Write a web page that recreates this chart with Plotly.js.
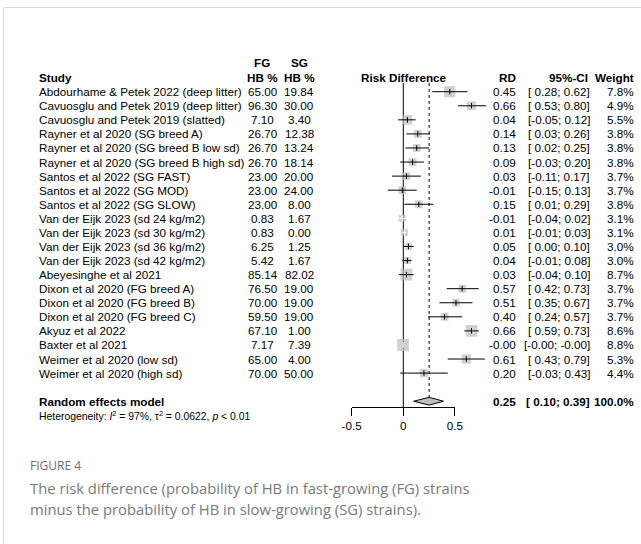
<!DOCTYPE html>
<html>
<head>
<meta charset="utf-8">
<script src="https://cdn.plot.ly/plotly-3.0.1.min.js"></script>
<style>html,body{margin:0;padding:0;background:#fff;}#chart{width:641px;height:544px;}</style>
</head>
<body>
<div id="chart"></div>
<script>
// ---------------- DATA ----------------
const studies = [
  "Abdourhame & Petek 2022 (deep litter)",
  "Cavuosglu and Petek 2019 (deep litter)",
  "Cavuosglu and Petek 2019 (slatted)",
  "Rayner et al 2020 (SG breed A)",
  "Rayner et al 2020 (SG breed B low sd)",
  "Rayner et al 2020 (SG breed B high sd)",
  "Santos et al 2022 (SG FAST)",
  "Santos et al 2022 (SG MOD)",
  "Santos et al 2022 (SG SLOW)",
  "Van der Eijk 2023 (sd 24 kg/m2)",
  "Van der Eijk 2023 (sd 30 kg/m2)",
  "Van der Eijk 2023 (sd 36 kg/m2)",
  "Van der Eijk 2023 (sd 42 kg/m2)",
  "Abeyesinghe et al 2021",
  "Dixon et al 2020 (FG breed A)",
  "Dixon et al 2020 (FG breed B)",
  "Dixon et al 2020 (FG breed C)",
  "Akyuz et al 2022",
  "Baxter et al 2021",
  "Weimer et al 2020 (low sd)",
  "Weimer et al 2020 (high sd)"
];
const fgHB = [65.00, 96.30, 7.10, 26.70, 26.70, 26.70, 23.00, 23.00, 23.00, 0.83, 0.83, 6.25, 5.42, 85.14, 76.50, 70.00, 59.50, 67.10, 7.17, 65.00, 70.00];
const sgHB = [19.84, 30.00, 3.40, 12.38, 13.24, 18.14, 20.00, 24.00, 8.00, 1.67, 0.00, 1.25, 1.67, 82.02, 19.00, 19.00, 19.00, 1.00, 7.39, 4.00, 50.00];
const rd   = [0.45, 0.66, 0.04, 0.14, 0.13, 0.09, 0.03, -0.01, 0.15, -0.01, 0.01, 0.05, 0.04, 0.03, 0.57, 0.51, 0.40, 0.66, -0.002, 0.61, 0.20];
const ciLo = [0.28, 0.53, -0.05, 0.03, 0.02, -0.03, -0.11, -0.15, 0.01, -0.04, -0.01, 0.00, -0.01, -0.04, 0.42, 0.35, 0.24, 0.59, -0.004, 0.43, -0.03];
const ciHi = [0.62, 0.80, 0.12, 0.26, 0.25, 0.20, 0.17, 0.13, 0.29, 0.02, 0.03, 0.10, 0.08, 0.10, 0.73, 0.67, 0.57, 0.73, -0.001, 0.79, 0.43];
const weight = [7.8, 4.9, 5.5, 3.8, 3.8, 3.8, 3.7, 3.7, 3.8, 3.1, 3.1, 3.0, 3.0, 8.7, 3.7, 3.7, 3.7, 8.6, 8.8, 5.3, 4.4];
const pooledLabel = "Random effects model";
const pooledRD = 0.25, pooledLo = 0.10, pooledHi = 0.39, pooledWeight = 100.0;
const hetI2 = "97%", hetTau2 = "0.0622", hetP = "0.01";
const axisTicks = [-0.5, 0, 0.5];
const axisTickLabels = ["-0.5", "0", "0.5"];
const nullEffect = 0;
const captionTitle = "FIGURE 4";
const captionLines = [
  "The risk difference (probability of HB in fast-growing (FG) strains",
  "minus the probability of HB in slow-growing (SG) strains)."
];

// ---------------- LAYOUT GEOMETRY ----------------
const W = 641, H = 544;
const X0 = 403.3, PXU = 103.3;          // pixel of RD=0, pixels per unit
const ROW1 = 91.7, PITCH = 14.07;       // pixel of first study row, row pitch
const xr = [-X0 / PXU, (W - X0) / PXU];
const yr = [1 + (H - ROW1) / PITCH, 1 - ROW1 / PITCH];
const F = "'Liberation Sans', Arial, sans-serif";
const FS = 11.7;
const SQK = 4.0;                         // square side = SQK*sqrt(weight)
const SQCOL = "#BEBEBE";
const n = studies.length;
const pooledRow = n + 2, hetRow = n + 3;
const axisPx = 407.3;

function fmt2(v) { return v.toFixed(2); }
function padPos(s) { return s.charAt(0) === '-' ? s : ' ' + s; }
function ciText(lo, hi) { return '[' + padPos(fmt2(lo)) + '; ' + fmt2(hi) + ']'; }

// ---------------- TRACES ----------------
const rows = studies.map((_, i) => i + 1);
const side = weight.map(w => SQK * Math.sqrt(w));
const inside = rd.map((_, i) => (ciHi[i] - ciLo[i]) * PXU <= side[i]);

const darkX = [], darkY = [], whiteX = [], whiteY = [];
const tickDX = [], tickDY = [], tickWX = [], tickWY = [];
for (let i = 0; i < n; i++) {
  if (inside[i]) {
    whiteX.push(ciLo[i], ciHi[i], null); whiteY.push(rows[i], rows[i], null);
    tickWX.push(rd[i]); tickWY.push(rows[i]);
  } else {
    darkX.push(ciLo[i], ciHi[i], null); darkY.push(rows[i], rows[i], null);
    tickDX.push(rd[i]); tickDY.push(rows[i]);
  }
}
const dh = 3.9 / PITCH;
const traces = [
  { type: 'scatter', mode: 'markers', x: rd, y: rows, hoverinfo: 'skip',
    marker: { symbol: 'square', size: side, color: SQCOL, line: { width: 0 } } },
  { type: 'scatter', mode: 'lines', x: darkX, y: darkY, hoverinfo: 'skip',
    line: { color: '#000', width: 1 } },
  { type: 'scatter', mode: 'lines', x: whiteX, y: whiteY, hoverinfo: 'skip',
    line: { color: '#fff', width: 1 } },
  { type: 'scatter', mode: 'markers', x: tickDX, y: tickDY, hoverinfo: 'skip',
    marker: { symbol: 'line-ns', size: 4, line: { color: '#000', width: 1 } } },
  { type: 'scatter', mode: 'markers', x: tickWX, y: tickWY, hoverinfo: 'skip',
    marker: { symbol: 'line-ns', size: 4, line: { color: '#fff', width: 1 } } },
  { type: 'scatter', mode: 'lines', fill: 'toself', fillcolor: SQCOL, hoverinfo: 'skip',
    x: [pooledLo, pooledRD, pooledHi, pooledRD, pooledLo],
    y: [pooledRow, pooledRow - dh, pooledRow, pooledRow + dh, pooledRow],
    line: { color: '#000', width: 1 } },
  { type: 'scatter', mode: 'markers', x: [axisTicks[0], axisTicks[axisTicks.length - 1]], y: [0.5, 0.5],
    xaxis: 'x2', yaxis: 'y2', marker: { opacity: 0 }, hoverinfo: 'skip' }
];

// ---------------- ANNOTATIONS ----------------
const ann = [];
function A(text, xpx, row, anchor, size, extra) {
  const o = { xref: 'paper', x: xpx / W, yref: 'y', y: row, xanchor: anchor, yanchor: 'middle',
    showarrow: false, text: text, font: { family: F, size: size || FS, color: '#000' } };
  return Object.assign(o, extra || {});
}
const cStudy = 36.7, cFG = 262.5, cSG = 299.3, cRD = 518.3, cCI = 591.7, cW = 636;
ann.push(A('<b>FG</b>', cFG - 1, -1.08, 'center'));
ann.push(A('<b>SG</b>', cSG, -1.08, 'center'));
ann.push(A('<b>Study</b>', cStudy, 0, 'left'));
ann.push(A('<b>HB %</b>', cFG, 0, 'center'));
ann.push(A('<b>HB %</b>', cSG, 0, 'center'));
ann.push(A('<b>Risk Difference</b>', 404, 0, 'center'));
ann.push(A('<b>RD</b>', cRD, 0, 'right'));
ann.push(A('<b>95%-CI</b>', cCI - 2, 0, 'right'));
ann.push(A('<b>Weight</b>', cW, 0, 'right'));
for (let i = 0; i < n; i++) {
  const r = rows[i];
  ann.push(A(studies[i], cStudy, r, 'left'));
  ann.push(A(fgHB[i].toFixed(2), cFG, r, 'center'));
  ann.push(A(sgHB[i].toFixed(2), cSG, r, 'center'));
  ann.push(A(fmt2(rd[i]), cRD, r, 'right'));
  ann.push(A(ciText(ciLo[i], ciHi[i]), cCI, r, 'right'));
  ann.push(A(weight[i].toFixed(1) + '%', cW - 0.5, r, 'right'));
}
ann.push(A('<b>' + pooledLabel + '</b>', cStudy, pooledRow, 'left'));
ann.push(A('<b>' + fmt2(pooledRD) + '</b>', cRD, pooledRow, 'right'));
ann.push(A('<b>' + ciText(pooledLo, pooledHi) + '</b>', cCI, pooledRow, 'right'));
ann.push(A('<b>' + pooledWeight.toFixed(1) + '%</b>', cW, pooledRow, 'right'));
ann.push(A('Heterogeneity: <i>I</i><sup>2</sup> = ' + hetI2 + ', τ<sup>2</sup> = ' + hetTau2 + ', <i>p</i> &lt; ' + hetP,
  cStudy, hetRow, 'left', 10.4));

// caption
const capF = "'Open Sans', 'Noto Sans', sans-serif";
ann.push({ xref: 'paper', yref: 'paper', x: 28.3 / W, y: 1 - 465 / H, xanchor: 'left', yanchor: 'middle',
  showarrow: false, text: captionTitle, font: { family: capF, size: 12, color: '#6e6e6e' } });
captionLines.forEach((t, k) => {
  ann.push({ xref: 'paper', yref: 'paper', x: 28.3 / W, y: 1 - (488.3 + k * 20.5) / H, xanchor: 'left', yanchor: 'middle',
    showarrow: false, text: t, font: { family: capF, size: 14.8, color: '#7a7a7a' } });
});

// ---------------- SHAPES ----------------
const topRow = 1 + (83 - ROW1) / PITCH;
const axisRow = 1 + (axisPx - ROW1) / PITCH;
const shapes = [
  { type: 'line', layer: 'below', xref: 'x', yref: 'y', x0: nullEffect, x1: nullEffect, y0: topRow, y1: axisRow,
    line: { color: '#000', width: 1 } },
  { type: 'line', layer: 'below', xref: 'x', yref: 'y', x0: pooledRD, x1: pooledRD, y0: topRow, y1: pooledRow - dh,
    line: { color: '#000', width: 1, dash: 'dot' } },
  // figure frame
  { type: 'line', xref: 'paper', yref: 'paper', x0: 3.5 / W, x1: 1, y0: 1 - 7.5 / H, y1: 1 - 7.5 / H,
    line: { color: '#d8d8d8', width: 1 } },
  { type: 'line', xref: 'paper', yref: 'paper', x0: 3.5 / W, x1: 3.5 / W, y0: 0, y1: 1 - 7.5 / H,
    line: { color: '#d8d8d8', width: 1 } }
];

const layout = {
  width: W, height: H, margin: { l: 0, r: 0, t: 0, b: 0, pad: 0 },
  paper_bgcolor: '#fff', plot_bgcolor: 'rgba(0,0,0,0)', showlegend: false,
  xaxis: { domain: [0, 1], range: xr, visible: false, fixedrange: true },
  yaxis: { domain: [0, 1], range: yr, visible: false, fixedrange: true },
  xaxis2: { domain: [(X0 + axisTicks[0] * PXU) / W, (X0 + axisTicks[axisTicks.length - 1] * PXU) / W],
    range: [axisTicks[0], axisTicks[axisTicks.length - 1]], anchor: 'y2',
    showline: true, linecolor: '#000', linewidth: 1, ticks: 'outside', ticklen: 8, tickwidth: 1, tickcolor: '#000',
    tickvals: axisTicks, ticktext: axisTickLabels, showgrid: false, zeroline: false, fixedrange: true,
    tickfont: { family: F, size: FS, color: '#000' } },
  yaxis2: { domain: [1 - axisPx / H, 1 - axisPx / H + 0.02], anchor: 'x2', visible: false, range: [0, 1], fixedrange: true },
  annotations: ann, shapes: shapes, hovermode: false
};

Plotly.newPlot('chart', traces, layout, { staticPlot: true, displayModeBar: false });
</script>
</body>
</html>
